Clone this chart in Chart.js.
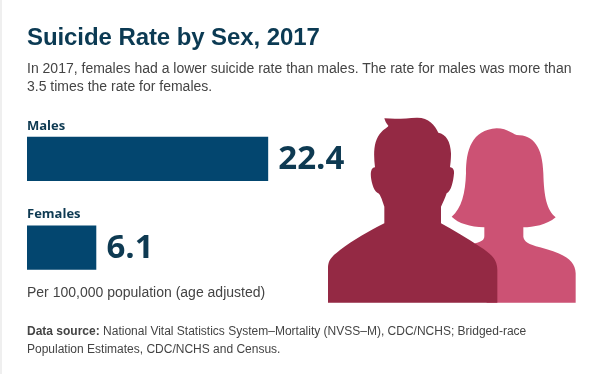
<!DOCTYPE html>
<html>
<head>
<meta charset="utf-8">
<title>Suicide Rate by Sex, 2017</title>
<script src="https://cdn.jsdelivr.net/npm/chart.js@4"></script>
<style>
    html, body { margin: 0; padding: 0; background: #fff; }
    #page { position: relative; width: 596px; height: 374px; overflow: hidden; font-family: "Liberation Sans", Arial, sans-serif; color: #444; }
    #strip { position: absolute; left: 0; top: 0; width: 2px; height: 374px; background: #efefef; }
    #page canvas { position: absolute; left: 0; top: 0; }
    #people { position: absolute; left: 320px; top: 110px; }
    .txt { position: absolute; left: 27px; white-space: nowrap; }
    #title { top: 23px; font-size: 24px; font-weight: bold; color: #0b3a53; letter-spacing: -0.08px; }
    #desc { top: 59px; font-size: 14px; line-height: 18px; }
    #unit { top: 284px; font-size: 14px; }
    #source { top: 322px; font-size: 12px; line-height: 18px; }
</style>
</head>
<body>
<div id="page">
    <div id="strip"></div>
    <svg id="people" width="270" height="200" viewBox="0 0 810 600">
        <path fill="#cc5274" d="M395 320 C425 295 436 250 438 190 C438 120 455 60 530 55 C560 55 575 70 590 75 C640 75 668 110 670 190 C672 260 680 300 707 322 C680 345 640 352 610 352 L610 380 C612 395 625 402 660 412 C720 428 766 445 767 490 L767 578 L500 578 L465 400 C485 395 493 390 493 378 L493 352 C450 350 415 340 395 320 Z"/>
        <path fill="#942944" d="M24 578 L24 475 C24 450 35 440 60 420 C100 390 150 362 193 340 L193 290 C185 265 180 250 172 248 C158 240 150 200 153 185 C155 175 160 172 165 172 C160 130 160 90 185 65 C195 55 205 50 205 47 C198 40 195 32 193 25 C230 28 260 25 290 23 C325 22 345 45 355 68 C378 72 392 95 393 130 C393 150 391 165 390 172 C398 172 403 180 402 190 C400 215 393 245 380 250 C375 265 368 280 363 290 L363 340 C400 360 440 385 480 410 C515 432 532 450 532 480 L532 578 Z"/>
    </svg>
    <canvas id="rateChart" width="596" height="374"></canvas>
    <div class="txt" id="title">Suicide Rate by Sex, 2017</div>
    <div class="txt" id="desc">In 2017, females had a lower suicide rate than males. The rate for males was more than<br>3.5 times the rate for females.</div>
    <div class="txt" id="unit">Per 100,000 population (age adjusted)</div>
    <div class="txt" id="source"><b>Data source:</b> National Vital Statistics System–Mortality (NVSS–M), CDC/NCHS; Bridged-race<br>Population Estimates, CDC/NCHS and Census.</div>
</div>
<script>
const categories = ['Males', 'Females'];
const rates = [22.4, 6.1];

// the source bars start a little left of zero, so the baseline sits at -0.44
const axisStart = -0.44;

const barLabels = {
    id: 'barLabels',
    afterDatasetsDraw(chart) {
        const ctx = chart.ctx;
        ctx.save();
        ctx.fillStyle = '#0e3a52';
        ctx.textBaseline = 'middle';
        chart.getDatasetMeta(0).data.forEach((bar, i) => {
            ctx.textAlign = 'left';
            ctx.font = '700 33px "Open Sans"';
            ctx.fillText(rates[i], bar.x + 10.5, bar.y + 0.5);
            ctx.font = 'bold 13px "Open Sans"';
            ctx.fillText(categories[i], 27, bar.y - 33);
        });
        ctx.restore();
    }
};

new Chart(document.getElementById('rateChart').getContext('2d'), {
    type: 'bar',
    data: {
        labels: categories,
        datasets: [{
            label: 'Suicide rate',
            data: rates,
            base: axisStart,
            backgroundColor: '#03466f',
            barThickness: 43.5
        }]
    },
    options: {
        indexAxis: 'y',
        responsive: false,
        animation: false,
        layout: { padding: { left: 27, right: 248, top: 114.6, bottom: 82 } },
        scales: {
            x: { display: false, min: axisStart, max: 30 },
            y: { display: false }
        },
        plugins: {
            legend: { display: false },
            tooltip: { enabled: false }
        }
    },
    plugins: [barLabels]
});
</script>
</body>
</html>
